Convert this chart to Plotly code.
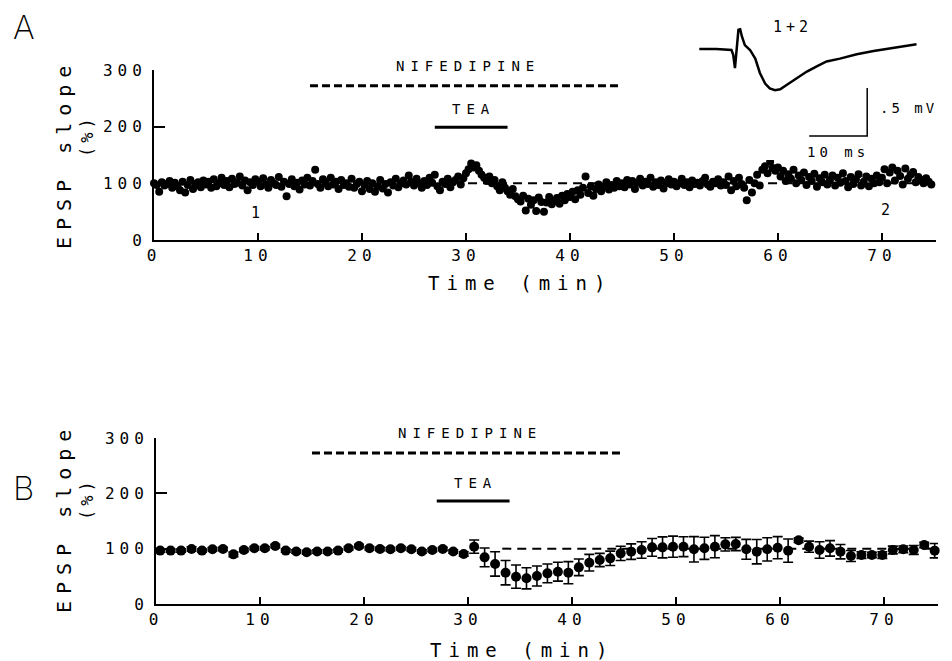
import plotly.graph_objects as go

# ---------------- Panel A: single-experiment EPSP slopes (every 0.25 min) ----------------
a_step = 0.25
a_vals = [
    100, 97, 85, 102, 96, 99, 104, 92, 101, 95, 88, 103, 84, 97, 106, 90, 99, 102, 93, 105,
    98, 103, 92, 107, 95, 100, 110, 97, 104, 93, 108, 99, 101, 112, 96, 105, 88, 102, 97, 107,
    103, 95, 109, 98, 92, 106, 100, 97, 111, 94, 103, 77, 99, 107, 95, 101, 89, 105, 98, 110,
    96, 104, 124, 99, 92, 107, 101, 95, 110, 98, 103, 90, 106, 97, 100, 94, 108, 92, 99, 103,
    86, 97, 104, 90, 100, 85, 95, 106, 91, 99, 84, 102, 96, 108, 93, 100, 105, 98, 114, 103,
    96, 108, 100, 92, 104, 97, 110, 101, 115, 95, 88, 103, 99, 108, 93, 102, 106, 112, 98, 109,
    118, 125, 135, 128, 132, 122, 115, 110, 104, 112, 100, 106, 95, 88, 102, 92, 86, 80, 90, 77,
    72, 68, 78, 52, 73, 62, 70, 51, 75, 67, 50, 66, 76, 63, 69, 74, 64, 78, 70, 81,
    76, 85, 72, 88, 80, 92, 112, 83, 95, 78, 90, 98, 86, 94, 102, 89, 97, 92, 104, 95,
    100, 93, 106, 98, 104, 90, 101, 108, 96, 103, 99, 110, 94, 102, 97, 105, 91, 100, 107, 98,
    103, 95, 100, 108, 97, 102, 93, 105, 99, 101, 96, 104, 110, 98, 94, 103, 100, 107, 96, 102,
    97, 112, 88, 104, 95, 110, 99, 92, 70, 106, 84, 100, 115, 96, 124, 130, 118, 138, 127, 122,
    128, 112, 122, 104, 116, 108, 124, 100, 114, 106, 119, 97, 111, 104, 117, 94, 109, 102, 115, 98,
    106, 114, 96, 110, 101, 118, 104, 93, 111, 99, 107, 116, 96, 103, 112, 95, 108, 100, 114, 102,
    110, 125, 100, 119, 128, 105, 122, 113, 98, 126, 108, 115, 120, 102, 111, 106, 100, 109, 103, 98,
]
a_time = [i * a_step for i in range(len(a_vals))]

# ---------------- Panel B: mean +/- SEM (1-min bins) ----------------
b_first, b_step = 0.4, 1.0065
b_vals = [
    96.5, 96.5, 96.5, 99.4, 96.5, 98.8, 99.4, 89.7, 97.7, 100.6,
    100.6, 104.8, 96.5, 94.8, 93.4, 94.8, 94.8, 96.5, 100.6, 104.8,
    100.6, 99.4, 98.8, 100.6, 98.8, 94.8, 97.7, 99.4, 94.8, 90.3,
    103.6, 84.3, 72.3, 56.6, 49.4, 46.4, 50.6, 55.4, 58.4, 56.6,
    66.2, 74.7, 79.5, 82.5, 91.5, 94.6, 97.6, 102.4, 102.4, 103.6,
    103.6, 98.8, 100.6, 103.6, 107.8, 108.4, 98.8, 94.6, 98.8, 101.8,
    96.4, 115.1, 103.6, 97.6, 100.6, 94.6, 86.7, 88.5, 88.5, 88.5,
    97.6, 98.8, 97.6, 106.6, 96.4,
]
b_err = [
    3, 3, 3, 4, 3, 3, 3, 4, 3, 3,
    3, 3, 3, 3, 3, 3, 3, 3, 3, 3,
    3, 3, 3, 3, 3, 3, 3, 3, 3, 4,
    12, 17, 22, 22, 21, 19, 18, 17, 17, 20,
    15, 15, 12, 13, 13, 14, 15, 16, 19, 19,
    18, 23, 20, 20, 12, 12, 18, 22, 21, 20,
    21, 4, 10, 15, 14, 13, 10, 6, 5, 6,
    7, 6, 8, 5, 13,
]
b_time = [b_first + i * b_step for i in range(len(b_vals))]

# ---------------- Treatment bars ----------------
nif_start, nif_end = 15, 45
tea_start, tea_end = 27, 34
nif_level_a, tea_level_a = 272, 199
nif_level_b, tea_level_b = 273, 186
base_level = 100
base_start_a, base_start_b, base_end = 30.2, 33.3, 75

# ---------------- Inset EPSP trace (ms, mV) ----------------
trace_ms = [0.05, 3.0, 5.6, 5.9, 6.2, 6.5, 6.8, 7.1, 7.4, 7.9, 8.8, 9.7, 10.5, 11.4,
            12.2, 13.1, 14.0, 15.1, 16.8, 18.6, 20.3, 22.0, 24.3, 27.2, 30.1, 32.9,
            35.8, 37.5]
trace_mv = [0.0, 0.0, -0.01, -0.06, -0.20, -0.01, 0.20, 0.205, 0.13, 0.04, -0.01, -0.10,
            -0.25, -0.36, -0.41, -0.43, -0.42, -0.375, -0.305, -0.235, -0.18, -0.13,
            -0.10, -0.055, -0.02, 0.005, 0.03, 0.05]
sb_ms, sb_mv = 10, 0.5
sb_x0, sb_y0 = 19.0, -0.906

x_ticks = [0, 10, 20, 30, 40, 50, 60, 70]
y_ticks = [0, 100, 200, 300]

MONO = "DejaVu Sans Mono"


def sp(text, s):
    return f'<span style="letter-spacing:{s}px">{text}</span>'


fig = go.Figure()

# Panel A scatter
fig.add_trace(go.Scatter(x=a_time, y=a_vals, mode="markers", xaxis="x", yaxis="y",
                         marker=dict(color="black", size=8), cliponaxis=False, showlegend=False))
# Panel B mean +/- SEM
fig.add_trace(go.Scatter(x=b_time, y=b_vals, mode="markers", xaxis="x2", yaxis="y2",
                         marker=dict(color="black", size=10),
                         error_y=dict(type="data", array=b_err, color="black", thickness=1.6, width=5),
                         cliponaxis=False, showlegend=False))

for xa, ya, nl, tl, bs in [("x", "y", nif_level_a, tea_level_a, base_start_a),
                           ("x2", "y2", nif_level_b, tea_level_b, base_start_b)]:
    fig.add_trace(go.Scatter(x=[nif_start, nif_end], y=[nl, nl], mode="lines", xaxis=xa, yaxis=ya,
                             line=dict(color="black", width=3, dash="8px,4px"), showlegend=False,
                             cliponaxis=False))
    fig.add_trace(go.Scatter(x=[tea_start, tea_end], y=[tl, tl], mode="lines", xaxis=xa, yaxis=ya,
                             line=dict(color="black", width=3), showlegend=False))
    fig.add_trace(go.Scatter(x=[bs, base_end], y=[base_level, base_level], mode="lines",
                             xaxis=xa, yaxis=ya,
                             line=dict(color="black", width=2, dash="9px,6px"), showlegend=False))

# Inset trace and scale bar
fig.add_trace(go.Scatter(x=trace_ms, y=trace_mv, mode="lines", xaxis="x3", yaxis="y3",
                         line=dict(color="black", width=2.5), showlegend=False))
fig.add_trace(go.Scatter(x=[sb_x0, sb_x0 + sb_ms, sb_x0 + sb_ms],
                         y=[sb_y0, sb_y0, sb_y0 + sb_mv], mode="lines", xaxis="x3", yaxis="y3",
                         line=dict(color="black", width=1.5), showlegend=False))

W, H = 952, 661
OFF = 8  # page body margin offset


def px(x):
    return (x - OFF) / W


def py(y):
    return 1 - (y - OFF) / H


tick_font = dict(family=MONO, size=16, color="black")
xtt = [sp(str(v), 5) for v in x_ticks]
ytt = [sp(str(v), 5) for v in y_ticks]

common_x = dict(range=[0, 75.2], showgrid=False, zeroline=False, showline=True, linecolor="black",
                linewidth=2, ticks="inside", ticklen=7, tickwidth=1.5, tickcolor="black",
                tickvals=x_ticks, ticktext=xtt, tickfont=tick_font, automargin=False)
common_y = dict(range=[0, 300], showgrid=False, zeroline=False, showline=True, linecolor="black",
                linewidth=2, ticks="inside", ticklen=11, tickwidth=1.5, tickcolor="black",
                tickvals=y_ticks, ticktext=ytt, tickfont=tick_font, ticklabelstandoff=2,
                automargin=False)

fig.update_layout(
    template="none",
    width=W, height=H, autosize=False,
    margin=dict(l=0, r=0, t=0, b=0, pad=0, autoexpand=False),
    paper_bgcolor="white", plot_bgcolor="white",
    showlegend=False,
    xaxis=dict(domain=[px(154), px(936)], anchor="y", **common_x),
    yaxis=dict(domain=[py(240), py(70)], anchor="x", **common_y),
    xaxis2=dict(domain=[px(156), px(938)], anchor="y2", **common_x),
    yaxis2=dict(domain=[py(604), py(438)], anchor="x2", **common_y),
    xaxis3=dict(domain=[px(690), px(930)], anchor="y3", range=[-1.552, 39.828], visible=False,
                automargin=False),
    yaxis3=dict(domain=[py(160), py(20)], anchor="x3", range=[-1.15625, 0.30208], visible=False,
                automargin=False),
)

ann = []


def add(text, x, y, xref="paper", yref="paper", size=15, xanchor="center", yanchor="middle",
        angle=0, family=MONO, weight=None, borderpad=1):
    f = dict(family=family, size=size, color="black")
    if weight is not None:
        f["weight"] = weight
    ann.append(dict(text=text, x=x, y=y, xref=xref, yref=yref, showarrow=False, font=f,
                    xanchor=xanchor, yanchor=yanchor, textangle=angle, borderpad=borderpad))


add("A", px(12), py(27), size=33, xanchor="left", family="Inter", weight=200, borderpad=0)
add("B", px(12), py(488), size=33, xanchor="left", family="Inter", weight=200, borderpad=0)

add(sp("NIFEDIPINE", 6), 30.2, py(66), "x", "paper", size=14)
add(sp("TEA", 6), 30.7, py(109), "x", "paper", size=14)
add(sp("NIFEDIPINE", 6), 30.2, py(433), "x2", "paper", size=14)
add(sp("TEA", 6), 30.7, py(483), "x2", "paper", size=14)

add("1", 9.8, 48, "x", "y", size=15)
add("2", 70.3, 53, "x", "y", size=15)

add(sp("Time (min)", 7), px(520), py(283), size=19)
add(sp("Time (min)", 7), px(522), py(650), size=19)

add(sp("EPSP slope", 7), px(64), py(154), size=20, angle=-90)
add(sp("(%)", 4), px(87), py(136), size=17, angle=-90)
add(sp("EPSP slope", 7), px(64), py(518), size=20, angle=-90)
add(sp("(%)", 4), px(87), py(499), size=17, angle=-90)

add(sp("1+2", 4), 16.2, 0.23, "x3", "y3", size=15)
add(sp(".5 mV", 3), 30.9, -0.615, "x3", "y3", size=14, xanchor="left")
add(sp("10 ms", 4), 24.0, -1.07, "x3", "y3", size=14)

fig.update_layout(annotations=ann)

fig.write_html("out.html")
